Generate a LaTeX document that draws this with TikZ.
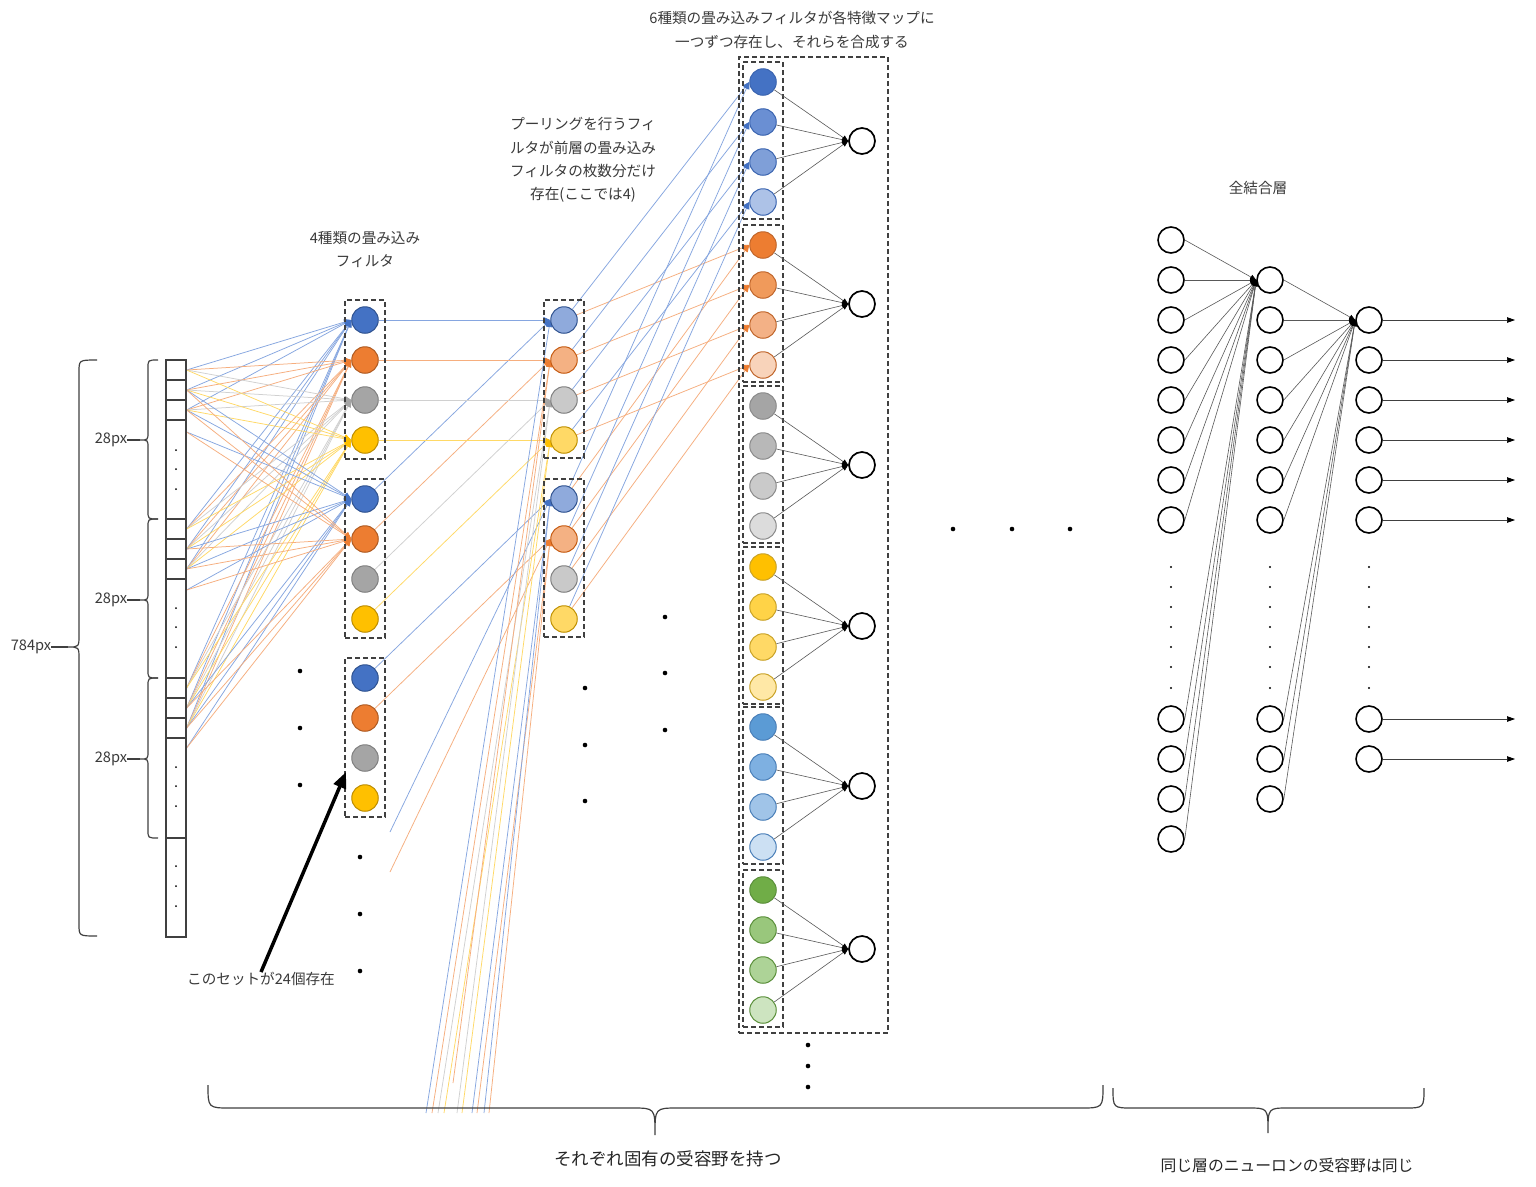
\documentclass[tikz,border=0pt]{standalone}
\usepackage{fontspec}
\setmainfont{Noto Sans CJK JP}
\usetikzlibrary{arrows.meta}
\pgfdeclarelayer{bg}
\pgfsetlayers{bg,main}
% layer 1 colours
\definecolor{f1}{HTML}{4472C4}\definecolor{d1}{HTML}{2F528F}
\definecolor{f2}{HTML}{ED7D31}\definecolor{d2}{HTML}{AE5A21}
\definecolor{f3}{HTML}{A5A5A5}\definecolor{d3}{HTML}{7F7F7F}
\definecolor{f4}{HTML}{FFC000}\definecolor{d4}{HTML}{BC8C00}
% pooling colours
\definecolor{pf1}{HTML}{8FAADC}\definecolor{pd1}{HTML}{2F528F}
\definecolor{pf2}{HTML}{F4B183}\definecolor{pd2}{HTML}{C55A11}
\definecolor{pf3}{HTML}{C9C9C9}\definecolor{pd3}{HTML}{7F7F7F}
\definecolor{pf4}{HTML}{FFD966}\definecolor{pd4}{HTML}{BF9000}
% line / tip colours
\definecolor{l1}{HTML}{86A6E0}\definecolor{t1}{HTML}{4472C4}
\definecolor{l2}{HTML}{F6AE7E}\definecolor{t2}{HTML}{ED7D31}
\definecolor{l3}{HTML}{D0D0D0}\definecolor{t3}{HTML}{A5A5A5}
\definecolor{l4}{HTML}{FFD966}\definecolor{t4}{HTML}{FFC000}
% layer 3 colours
\definecolor{gf11}{HTML}{4472C4}\definecolor{gf12}{HTML}{6A8FD3}\definecolor{gf13}{HTML}{7F9FD8}\definecolor{gf14}{HTML}{ADC2E7}
\definecolor{gf21}{HTML}{ED7D31}\definecolor{gf22}{HTML}{F09A5B}\definecolor{gf23}{HTML}{F3B186}\definecolor{gf24}{HTML}{F8D3BA}
\definecolor{gf31}{HTML}{A5A5A5}\definecolor{gf32}{HTML}{B8B8B8}\definecolor{gf33}{HTML}{CACACA}\definecolor{gf34}{HTML}{DCDCDC}
\definecolor{gf41}{HTML}{FFC000}\definecolor{gf42}{HTML}{FFD347}\definecolor{gf43}{HTML}{FFD966}\definecolor{gf44}{HTML}{FFE8A6}
\definecolor{gf51}{HTML}{5B9BD5}\definecolor{gf52}{HTML}{7EB0E1}\definecolor{gf53}{HTML}{A0C4E8}\definecolor{gf54}{HTML}{CCE0F3}
\definecolor{gf61}{HTML}{70AD47}\definecolor{gf62}{HTML}{99C77C}\definecolor{gf63}{HTML}{ADD397}\definecolor{gf64}{HTML}{CDE4C0}
\definecolor{gd1}{HTML}{3A64B0}\definecolor{gd2}{HTML}{C0652A}\definecolor{gd3}{HTML}{8A8A8A}
\definecolor{gd4}{HTML}{C9A227}\definecolor{gd5}{HTML}{4A7FB8}\definecolor{gd6}{HTML}{5A8F3A}
\definecolor{dkg}{HTML}{404040}
\definecolor{txg}{HTML}{3A3A3A}
\definecolor{lk}{HTML}{595959}
\begin{document}
\begin{tikzpicture}[x=1pt,y=-1pt,
  neuron/.style={circle, minimum size=26.5pt, inner sep=0pt, line width=1pt},
  outn/.style={circle, minimum size=26pt, inner sep=0pt, draw=black, fill=white, line width=1.7pt},
  dbox/.style={draw=dkg, dash pattern=on 5pt off 3pt, line width=1.2pt, inner sep=0pt},
  lbl/.style={text=txg, font=\fontsize{14.6}{23.3}\selectfont, align=center, inner sep=0pt},
  lnk/.style={line width=0.75pt, draw=l#1, -{Triangle[length=7pt,width=6pt,color=t#1]}},
  blk/.style={line width=0.6pt, draw=lk, -{Triangle[length=6pt,width=5pt,color=black]}},
  brc/.style={line width=1.2pt, draw=dkg}]
\useasboundingbox (0,0) rectangle (1536,1186);
\begin{pgfonlayer}{bg}
\fill[white] (0,0) rectangle (1536,1186);
\end{pgfonlayer}

% ---------------- input column ----------------
\node[draw=dkg, line width=1.2pt, minimum width=20pt, minimum height=577pt, inner sep=0pt] (incol) at (176,648.5) {};
\foreach \y in {380,400,420,519,539,559,579,678,698,718,738,838}
  \draw[line width=1.2pt, draw=dkg] (incol.west |- 0,\y) -- (incol.east |- 0,\y);
\foreach \y in {450,469,489,608,627,647,767,786,806,866,886,906}
  \fill (176,\y) circle (1pt);
\foreach \n/\y in {1/370,2/390,3/410,4/432,5/529,6/549,7/569,8/590,9/688,10/708,11/728,12/748}
  \coordinate (in\n) at (incol.east |- 0,\y);

% braces on the left
\draw[brc] (97,360) .. controls (79,360) and (79,360) .. (79,372) -- (79,635)
  .. controls (79,647) and (79,647) .. (68,647) .. controls (79,647) and (79,647) .. (79,659)
  -- (79,924) .. controls (79,936) and (79,936) .. (97,936);
\coordinate (bigtip) at (68,647);
\node[lbl] (t784) at (31,647) {784px};
\draw[brc] (t784.east) -- (bigtip);
\foreach \a/\m/\b in {360/440/519,519/600/678,678/759/838}{
  \draw[brc] (158,\a) .. controls (148,\a) and (148,\a) .. (148,\a+8) -- (148,\m-8)
    .. controls (148,\m) and (148,\m) .. (140,\m) .. controls (148,\m) and (148,\m) .. (148,\m+8)
    -- (148,\b-8) .. controls (148,\b) and (148,\b) .. (158,\b);
  \coordinate (bt\m) at (140,\m);
  \node[lbl] (l28\m) at (111,\m) {28px};
  \draw[brc] (l28\m.east) -- (bt\m);
}

% ---------------- layer 1 (4 filters) ----------------
\foreach \s/\yt in {A/320,B/499,C/678}{
  \node[dbox, minimum width=40pt, minimum height=159pt] (box\s) at (365,\yt+59.5) {};
  \foreach \k in {1,...,4}
    \node[neuron, fill=f\k, draw=d\k] (\s\k) at (365,{\yt+40*(\k-1)}) {};
}
\node[lbl] (t4) at (365,249.5) {4種類の畳み込み\\フィルタ};
\foreach \y in {671,728,785} \fill (300,\y) circle (2.3pt);
\foreach \y in {857,914,971} \fill (360,\y) circle (2.3pt);

% ---------------- pooling layer ----------------
\foreach \s/\yt in {P/320,Q/499}{
  \node[dbox, minimum width=40pt, minimum height=158pt] (box\s) at (564,\yt+59) {};
  \foreach \k in {1,...,4}
    \node[neuron, fill=pf\k, draw=pd\k] (\s\k) at (564,{\yt+40*(\k-1)}) {};
}
\node[lbl] (tpool) at (583,160) {プーリングを行うフィ\\ルタが前層の畳み込み\\フィルタの枚数分だけ\\存在(ここでは4)};
\foreach \y in {688,745,801} \fill (585,\y) circle (2.3pt);
\foreach \y in {617,673,730} \fill (665,\y) circle (2.3pt);

% ---------------- layer 3 (6 filters) ----------------
\node[dbox, minimum width=149pt, minimum height=976pt] (BIG) at (813.5,545) {};
\foreach \g/\yt in {1/82,2/245,3/406,4/567,5/727,6/890}{
  \node[dbox, minimum width=40pt, minimum height=157pt] (GB\g) at (763,\yt+58.5) {};
  \foreach \k in {1,...,4}
    \node[neuron, fill=gf\g\k, draw=gd\g] (G\g\k) at (763,{\yt+40*(\k-1)}) {};
  \node[outn] (O\g) at (862,\yt+59) {};
  \foreach \k in {1,...,4}
    \draw[blk] (G\g\k) -- (O\g.west);
}
\node[lbl] (t6) at (792,30) {6種類の畳み込みフィルタが各特徴マップに\\一つずつ存在し、それらを合成する};
\foreach \y in {1045,1066,1087} \fill (808,\y) circle (2.3pt);
\foreach \x in {953,1012,1070} \fill (\x,529) circle (2.3pt);

% ---------------- fully connected ----------------
\node[lbl] (tfc) at (1258,188) {全結合層};
\foreach \k/\y in {1/240,2/280,3/320,4/360,5/400,6/440,7/480,8/520,9/719,10/759,11/799,12/839}
  \node[outn, fill=none, line width=1.6pt] (fa\k) at (1171,\y) {};
\foreach \k/\y in {1/280,2/320,3/360,4/400,5/440,6/480,7/520,8/719,9/759,10/799}
  \node[outn, fill=none, line width=1.6pt] (fb\k) at (1270,\y) {};
\foreach \k/\y in {1/320,2/360,3/400,4/440,5/480,6/520,7/719,8/759}{
  \node[outn, fill=none, line width=1.6pt] (fc\k) at (1369,\y) {};
  \coordinate (out\k) at (1515,\y);
  \draw[line width=0.7pt, draw=dkg, -{Triangle[length=8pt,width=5.5pt,color=black]}] (fc\k) -- (out\k);
}
\foreach \x in {1171,1270,1369}
  \foreach \y in {567,587,607,627,647,667,688}
    \fill (\x,\y) circle (1.1pt);
\foreach \k in {1,...,12} \draw[blk] (fa\k.east) -- (fb1.west);
\foreach \k in {1,...,10} \draw[blk] (fb\k.east) -- (fc1.west);

% ---------------- coloured connections (background) ----------------
\begin{pgfonlayer}{bg}
  % input -> set A (all four filters)
  \foreach \k in {1,...,4}
    \foreach \s in {1,2,3,5,6,7,9,10,11}
      \draw[lnk=\k] (in\s) -- (A\k.west);
  % input -> set B (blue and orange)
  \foreach \k in {1,2}
    \foreach \s in {2,3,4,6,7,8,10,11,12}
      \draw[lnk=\k] (in\s) -- (B\k.west);
  % layer 1 -> pooling
  \foreach \k in {1,...,4}{
    \draw[lnk=\k] (A\k) -- (P\k.west);
    \draw[lnk=\k] (B\k) -- (P\k.west);
  }
  \foreach \k in {1,2} \draw[lnk=\k] (C\k) -- (Q\k.west);
  \coordinate (v1) at (390,832);
  \coordinate (v2) at (390,872);
  \draw[lnk=1] (v1) -- (Q1.west);
  \draw[lnk=2] (v2) -- (Q2.west);
  % lines coming from the sets below
  \foreach \n/\x/\y/\c/\t in {1/426/1113/1/P1, 2/432/1113/2/P2, 3/438/1113/3/P3, 4/444/1113/4/P4,
      5/453/1083/2/P2, 6/457/1113/3/P3, 7/462/1113/4/P4, 8/472/1113/1/Q1, 9/477/1113/2/Q2,
      10/484/1113/1/Q1, 11/489/1113/2/Q2}{
    \coordinate (u\n) at (\x,\y);
    \draw[lnk=\c] (u\n) -- (\t.west);
  }
  % pooling -> layer 3 (filters 1 and 2)
  \foreach \k in {1,...,4}{
    \draw[lnk=1] (P\k) -- (G1\k.west);
    \draw[lnk=2] (P\k) -- (G2\k.west);
    \draw[lnk=1] (Q\k) -- (G1\k.west);
    \draw[lnk=2] (Q\k) -- (G2\k.west);
  }
\end{pgfonlayer}

% ---------------- annotation arrow ----------------
\node[lbl, anchor=west] (tset) at (187,979) {このセットが24個存在};
\coordinate (arrtip) at (346,772);
\draw[line width=3.5pt, -{Triangle[length=16pt,width=13pt]}] (tset.north) -- (arrtip);

% ---------------- bottom braces ----------------
\draw[brc] (208,1085) .. controls (208,1108) and (208,1108) .. (231,1108) -- (632,1108)
  .. controls (655,1108) and (655,1108) .. (655,1135) .. controls (655,1108) and (655,1108) .. (678,1108)
  -- (1080,1108) .. controls (1103,1108) and (1103,1108) .. (1103,1085);
\draw[brc] (1113,1088) .. controls (1113,1108) and (1113,1108) .. (1133,1108) -- (1248,1108)
  .. controls (1268,1108) and (1268,1108) .. (1268,1133) .. controls (1268,1108) and (1268,1108) .. (1288,1108)
  -- (1404,1108) .. controls (1424,1108) and (1424,1108) .. (1424,1088);
\node[lbl, text=black!85, font=\fontsize{17.5}{20}\selectfont] (tb1) at (668,1159) {それぞれ固有の受容野を持つ};
\node[lbl, text=black!85, font=\fontsize{15.8}{18}\selectfont] (tb2) at (1287,1165) {同じ層のニューロンの受容野は同じ};
\end{tikzpicture}
\end{document}
